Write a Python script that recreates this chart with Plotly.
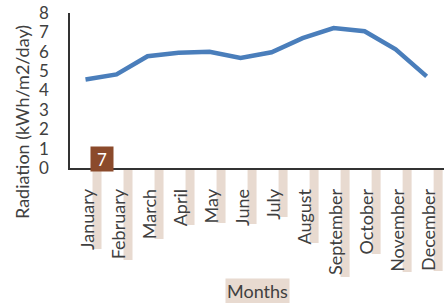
import plotly.graph_objects as go

months = ["January", "February", "March", "April", "May", "June", "July",
          "August", "September", "October", "November", "December"]
radiation = [4.57, 4.83, 5.77, 5.95, 6.0, 5.68, 5.97, 6.7, 7.22, 7.06, 6.13, 4.73]
y_ticks = [0, 1, 2, 3, 4, 5, 6, 7, 8]

# decorative highlight lengths (px) behind the tick labels
label_highlight_px = [81, 92, 71, 57, 55, 56, 49, 75, 109, 86, 104, 103]

FONT = "Lato"
TXT = "#404040"
BEIGE = "#E8DAD0"

fig = go.Figure()
fig.add_trace(go.Scatter(
    x=list(range(len(months))), y=radiation, mode="lines",
    line=dict(color="#4A7EBB", width=4.5), hoverinfo="skip"))

shapes = []
for i, L in enumerate(label_highlight_px):
    shapes.append(dict(
        type="rect", xref="x", xsizemode="pixel", xanchor=i, x0=7, x1=16,
        yref="paper", ysizemode="pixel", yanchor=0, y0=-1, y1=-L,
        fillcolor=BEIGE, line=dict(width=0), layer="below"))

annotations = [
    dict(text="Months", xref="paper", yref="paper", x=0.5, y=0, yshift=-123,
         xanchor="center", yanchor="middle",
         showarrow=False, bgcolor=BEIGE, font=dict(family=FONT, size=18, color=TXT),
         borderpad=1),
    dict(text="Radiation (kWh/m2/day)", xref="paper", yref="paper", x=0, y=0,
         xshift=-48, yshift=46, textangle=-90, showarrow=False,
         xanchor="center", yanchor="middle",
         font=dict(family=FONT, size=18, color=TXT)),
    dict(text="7", xref="x", yref="paper", x=0, y=0, xshift=16, yshift=9,
         xanchor="center", yanchor="middle",
         showarrow=False, bgcolor="#8B4A2B", font=dict(family=FONT, size=17, color="white"),
         borderpad=2, width=18, height=20),
]

fig.update_layout(
    width=444, height=303,
    margin=dict(l=70, r=0, t=13, b=135, autoexpand=False),
    paper_bgcolor="white", plot_bgcolor="white",
    showlegend=False,
    shapes=shapes, annotations=annotations,
    font=dict(family=FONT, size=18, color=TXT),
    xaxis=dict(
        tickmode="array", tickvals=list(range(len(months))), ticktext=months,
        range=[-0.5, 11.56], tickangle=-90, showgrid=False, zeroline=False,
        showline=True, linecolor="#333333", linewidth=1.5, ticks="",
        ticklabelstandoff=12, ticklabelshift=3, automargin=False,
        tickfont=dict(family=FONT, size=18, color=TXT)),
    yaxis=dict(
        range=[0, 8], tickvals=y_ticks, showgrid=False, zeroline=False,
        showline=True, linecolor="#333333", linewidth=1.5, ticks="",
        ticklabelstandoff=16, automargin=False,
        tickfont=dict(family=FONT, size=17, color=TXT)),
)

fig.write_html("out.html", config={"displayModeBar": False},
               post_script="document.body.style.margin='0';")
